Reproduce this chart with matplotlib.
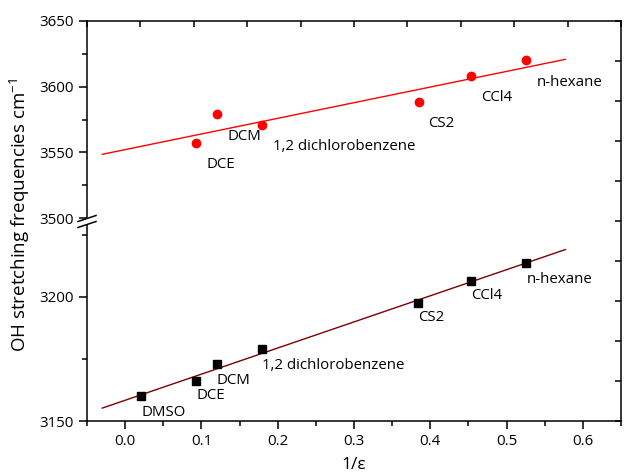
import numpy as np
import matplotlib
matplotlib.use('Agg')
import matplotlib.pyplot as plt

plt.rcParams['font.family'] = ['Open Sans', 'DejaVu Sans']
plt.rcParams['mathtext.fontset'] = 'custom'
plt.rcParams['mathtext.rm'] = 'Open Sans'

# 1/eps values of the solvents and OH stretching frequencies (cm^-1)
sq_x = [0.0205, 0.0935, 0.1204, 0.179, 0.3837, 0.4533, 0.5258]
sq_y = [3160.1, 3166.1, 3172.9, 3178.9, 3197.7, 3206.5, 3213.7]
sq_labels = ['DMSO', 'DCE', 'DCM', '1,2 dichlorobenzene', 'CS2', 'CCl4', 'n-hexane']

ci_x = [0.0935, 0.1204, 0.179, 0.3846, 0.454, 0.5258]
ci_y = [3556.9, 3579.0, 3570.9, 3588.2, 3607.8, 3620.0]
ci_labels = ['DCE', 'DCM', '1,2 dichlorobenzene', 'CS2', 'CCl4', 'n-hexane']

# linear fit lines (end points)
sq_fit_x = [-0.03, 0.577]
sq_fit_y = [3155.2, 3219.1]
ci_fit_x = [-0.03, 0.577]
ci_fit_y = [3548.5, 3620.8]

# where the labels sit (data coords, left / centre)
sq_lab_x = [0.0217, 0.0935, 0.1204, 0.180, 0.3846, 0.454, 0.5258]
sq_lab_y = [3153.6, 3160.1, 3166.4, 3172.5, 3191.7, 3200.7, 3207.2]
ci_lab_x = [0.107, 0.134, 0.1935, 0.3977, 0.467, 0.54]
ci_lab_y = [3540.6, 3562.2, 3554.6, 3571.7, 3591.5, 3603.4]

W, H = 624, 475
fig = plt.figure(figsize=(6.24, 4.75), dpi=100)

L = 87 / W
Wd = (621 - 87) / W
B = 1 - 421 / H
Ht = (421 - 21) / H

top_lo = 1 - 218 / H
top_h = (218 - 21) / H
bot_h = (421 - 225) / H

lw = 1.1

# outer frame with the unlabeled top / right ticks
ax_f = fig.add_axes([L, B, Wd, Ht])
ax_f.patch.set_visible(False)
ax_f.set_xlim(0, 1)
ax_f.set_ylim(0, 1)
ax_f.spines['left'].set_visible(False)
ax_f.spines['bottom'].set_visible(False)
for s in ['top', 'right']:
  ax_f.spines[s].set_linewidth(lw)
ax_f.xaxis.set_ticks_position('top')
ax_f.yaxis.set_ticks_position('right')
ax_f.set_xticks(np.linspace(0, 1, 11))
ax_f.set_yticks(np.linspace(0, 1, 11))
ax_f.tick_params(direction='in', length=4.5, width=lw, labeltop=False, labelright=False)

# bottom part
ax_b = fig.add_axes([L, B, Wd, bot_h])
ax_b.patch.set_visible(False)
ax_b.plot(sq_fit_x, sq_fit_y, color='#7a0000', lw=1.0)
ax_b.plot(sq_x, sq_y, 's', color='black', ms=6)
for t, x, y in zip(sq_labels, sq_lab_x, sq_lab_y):
  ax_b.text(x, y, t, fontsize=10.8, va='center', ha='left')
ax_b.set_xlim(-0.05, 0.65)
ax_b.set_ylim(3150, 3229)
ax_b.spines['top'].set_visible(False)
ax_b.spines['right'].set_visible(False)
for s in ['left', 'bottom']:
  ax_b.spines[s].set_linewidth(lw)
ax_b.set_xticks(np.arange(0, 0.61, 0.1))
ax_b.set_xticks(np.arange(-0.05, 0.66, 0.1), minor=True)
ax_b.set_yticks([3150, 3200])
ax_b.set_yticks([3175, 3225], minor=True)
ax_b.set_xticklabels(['%.1f' % v for v in np.arange(0, 0.61, 0.1)])
ax_b.tick_params(which='major', direction='out', length=6, width=lw, labelsize=10.8)
ax_b.tick_params(which='minor', direction='out', length=3.5, width=lw)

# top part
ax_t = fig.add_axes([L, top_lo, Wd, top_h])
ax_t.patch.set_visible(False)
ax_t.plot(ci_fit_x, ci_fit_y, color='red', lw=1.0)
ax_t.plot(ci_x, ci_y, 'o', color='red', ms=6)
for t, x, y in zip(ci_labels, ci_lab_x, ci_lab_y):
  ax_t.text(x, y, t, fontsize=10.8, va='center', ha='left')
ax_t.set_xlim(-0.05, 0.65)
ax_t.set_ylim(3500, 3650)
for s in ['top', 'right', 'bottom']:
  ax_t.spines[s].set_visible(False)
ax_t.spines['left'].set_linewidth(lw)
ax_t.set_xticks([])
ax_t.set_yticks([3500, 3550, 3600, 3650])
ax_t.set_yticks([3525, 3575, 3625], minor=True)
ax_t.tick_params(which='major', direction='out', length=6, width=lw, labelsize=10.8)
ax_t.tick_params(which='minor', direction='out', length=3.5, width=lw)

# break marks on the left axis
for yb in [218.5, 224.5]:
  fig.add_artist(plt.Line2D([78 / W, 96 / W], [1 - (yb + 3) / H, 1 - (yb - 3) / H],
                            color='black', lw=lw))

fig.text(20 / W, 1 - 215 / H, r'OH stretching frequencies cm$^{-1}$', rotation=90,
         fontsize=13.5, va='center', ha='center')
fig.text(354 / W, 1 - 465 / H, '1/ε', fontsize=12.5, va='center', ha='center')

fig.savefig('out.png', dpi=100)
